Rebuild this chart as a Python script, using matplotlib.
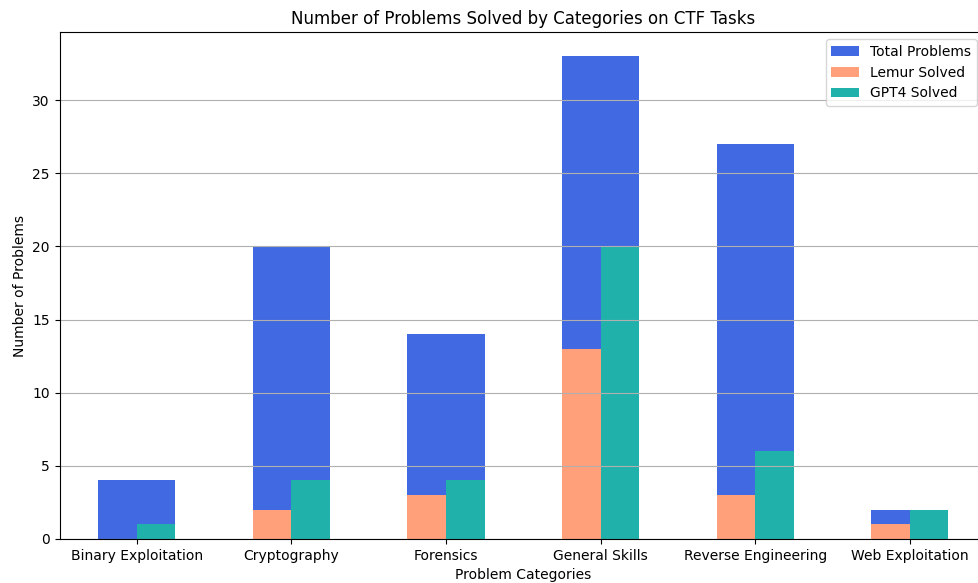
import matplotlib
matplotlib.use('Agg')
import matplotlib.pyplot as plt
import numpy as np

# Problem counts per CTF category
categories = ['Binary Exploitation', 'Cryptography', 'Forensics',
              'General Skills', 'Reverse Engineering', 'Web Exploitation']
total_problems = [4, 20, 14, 33, 27, 2]
lemur_solved = [0, 2, 3, 13, 3, 1]
gpt4_solved = [1, 4, 4, 20, 6, 2]

x = np.arange(len(categories))
width = 0.5

fig = plt.figure(figsize=(9.79, 5.83), dpi=100)
# axes runs slightly past the right edge, as in the original crop
ax = fig.add_axes([0.0608, 0.0755, 0.9475, 0.8695])

ax.bar(x, total_problems, width, label='Total Problems', color='royalblue')
ax.bar(x - width/4, lemur_solved, width/2, label='Lemur Solved', color='lightsalmon')
ax.bar(x + width/4, gpt4_solved, width/2, label='GPT4 Solved', color='lightseagreen')

ax.set_xlabel('Problem Categories')
ax.set_ylabel('Number of Problems')
ax.set_title('Number of Problems Solved by Categories on CTF Tasks')
ax.set_xticks(x)
ax.set_xticklabels(categories)
ax.set_xlim(-0.5, len(categories) - 0.5)
ax.grid(axis='y')

# keep the legend inside the visible part of the figure
ax.legend(loc='upper right', bbox_to_anchor=(0.9965, 1.0))

plt.savefig('out.png', dpi=100)
